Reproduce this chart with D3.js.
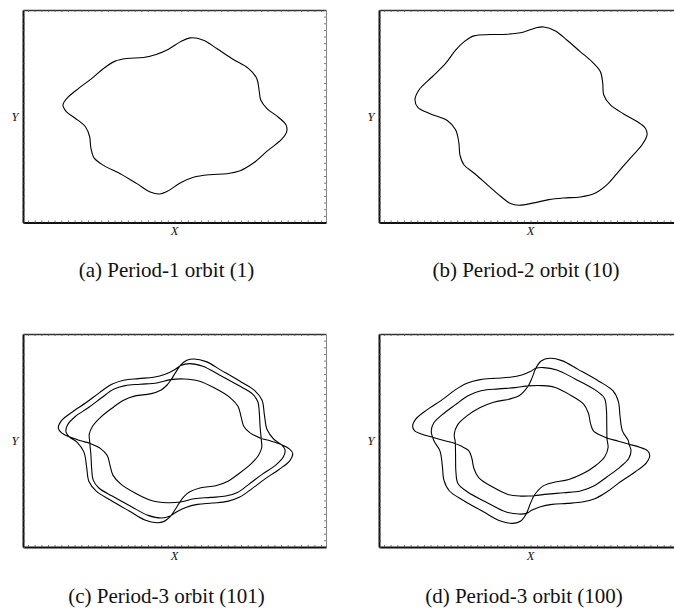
<!DOCTYPE html>
<html>
<head>
<meta charset="utf-8">
<script src="https://cdn.jsdelivr.net/npm/d3@7"></script>
<style>
  html, body { margin: 0; padding: 0; background: #fff; }
  svg { display: block; }
</style>
</head>
<body>
<script>
// Phase-plane orbits (X, Y). Each orbit is a closed path of sampled states.

// (a) period-1 orbit
const orbit1 = [
  [0.47,2.36],[0.87,2.29],[1.27,2.04],[1.77,1.71],[2.22,1.44],[2.47,1.14],[2.54,0.79],[2.59,0.49],
  [2.77,0.24],[3.12,-0.03],[3.35,-0.26],[3.37,-0.46],[3.22,-0.69],[2.77,-1.06],[2.37,-1.41],[1.97,-1.64],
  [1.57,-1.73],[1.07,-1.76],[0.57,-1.84],[0.17,-2.01],[-0.18,-2.24],[-0.45,-2.34],[-0.73,-2.28],[-1.13,-2.03],
  [-1.63,-1.73],[-2.13,-1.48],[-2.41,-1.26],[-2.51,-0.96],[-2.55,-0.61],[-2.68,-0.31],[-2.98,-0.06],[-3.25,0.14],
  [-3.35,0.34],[-3.23,0.54],[-2.88,0.84],[-2.48,1.14],[-2.13,1.44],[-1.78,1.66],[-1.43,1.74],[-0.93,1.77],
  [-0.53,1.87],[-0.18,2.02],[0.17,2.24]
];

// (b) period-2 orbit
const orbit2 = [
  [0.40,2.69],[0.75,2.57],[1.10,2.29],[1.50,1.94],[1.85,1.64],[2.10,1.34],[2.17,0.99],[2.20,0.64],
  [2.40,0.34],[2.80,0.07],[3.20,-0.16],[3.45,-0.36],[3.50,-0.56],[3.35,-0.86],[3.00,-1.26],[2.65,-1.66],
  [2.30,-2.06],[1.95,-2.31],[1.50,-2.43],[1.00,-2.46],[0.55,-2.51],[0.10,-2.61],[-0.35,-2.68],[-0.60,-2.63],
  [-0.90,-2.41],[-1.30,-2.06],[-1.70,-1.71],[-2.00,-1.46],[-2.12,-1.16],[-2.15,-0.81],[-2.25,-0.41],[-2.50,-0.13],
  [-3.00,0.07],[-3.38,0.26],[-3.47,0.49],[-3.35,0.79],[-2.95,1.19],[-2.55,1.59],[-2.25,1.99],[-2.00,2.24],
  [-1.70,2.42],[-1.20,2.46],[-0.70,2.47],[-0.20,2.54],[0.15,2.66]
];

// (c) period-3 orbit (101): three turns of one closed path
const orbit3a = [
  // turn 1
  [-3.16,0.11],[-3.39,0.23],[-3.49,0.37],[-3.40,0.59],[-3.08,0.85],[-2.65,1.14],[-2.25,1.44],[-1.90,1.68],
  [-1.53,1.81],[-1.08,1.86],[-0.63,1.90],[-0.28,1.99],[-0.01,2.12],[0.19,2.25],[0.45,2.31],[0.85,2.23],
  [1.35,1.97],[1.93,1.65],[2.34,1.40],[2.50,1.17],[2.55,0.79],[2.57,0.42],
  [2.61,-0.01],[2.62,-0.21],[2.52,-0.45],[2.29,-0.71],[1.94,-0.99],[1.59,-1.23],[1.24,-1.36],[0.79,-1.42],
  [0.46,-1.54],[0.29,-1.68],[0.16,-1.85],[0.03,-2.06],[-0.13,-2.29],[-0.31,-2.43],[-0.53,-2.47],[-0.89,-2.39],
  [-1.36,-2.12],[-1.94,-1.78],[-2.35,-1.52],[-2.57,-1.23],[-2.64,-0.79],[-2.72,-0.35],[-2.93,-0.05],
  // turn 2
  [-3.16,0.11],[-3.26,0.26],[-3.21,0.47],[-2.98,0.72],[-2.58,0.99],[-2.18,1.29],[-1.83,1.54],[-1.48,1.65],
  [-1.03,1.69],[-0.53,1.73],[-0.11,1.83],[0.29,1.85],[0.73,1.79],[1.22,1.57],[1.67,1.29],[1.91,1.02],
  [2.00,0.71],[2.08,0.43],[2.27,0.23],[2.59,0.07],[2.87,-0.01],
  [3.22,-0.13],[3.45,-0.25],[3.55,-0.39],[3.46,-0.61],[3.14,-0.87],[2.71,-1.16],[2.31,-1.46],[1.96,-1.70],
  [1.59,-1.83],[1.14,-1.88],[0.69,-1.92],[0.34,-2.01],[0.07,-2.14],[-0.13,-2.27],[-0.39,-2.33],[-0.79,-2.25],
  [-1.29,-1.99],[-1.87,-1.67],[-2.28,-1.42],[-2.44,-1.19],[-2.49,-0.81],[-2.51,-0.44],
  // turn 3
  [-2.55,-0.01],[-2.56,0.19],[-2.46,0.43],[-2.23,0.69],[-1.88,0.97],[-1.53,1.21],[-1.18,1.34],[-0.73,1.40],
  [-0.40,1.52],[-0.23,1.66],[-0.10,1.83],[0.03,2.04],[0.19,2.27],[0.37,2.41],[0.59,2.45],[0.95,2.37],
  [1.42,2.10],[2.00,1.76],[2.41,1.50],[2.63,1.21],[2.70,0.77],[2.78,0.33],[2.99,0.03],
  [3.22,-0.13],[3.32,-0.28],[3.27,-0.49],[3.04,-0.74],[2.64,-1.01],[2.24,-1.31],[1.89,-1.56],[1.54,-1.67],
  [1.09,-1.71],[0.59,-1.75],[0.17,-1.85],[-0.23,-1.87],[-0.67,-1.81],[-1.16,-1.59],[-1.61,-1.31],[-1.85,-1.04],
  [-1.94,-0.73],[-2.02,-0.45],[-2.21,-0.25],[-2.53,-0.09],[-2.81,-0.01]
];

// (d) period-3 orbit (100): three turns of one closed path
const orbit3b = [
  // turn 1
  [-2.92,0.09],[-3.26,0.19],[-3.48,0.29],[-3.54,0.43],[-3.44,0.65],[-3.11,0.92],[-2.66,1.22],[-2.26,1.52],
  [-1.91,1.72],[-1.51,1.83],[-1.06,1.87],[-0.61,1.90],[-0.26,1.97],[-0.01,2.07],[0.16,2.17],[0.39,2.19],
  [0.79,2.12],[1.34,1.85],[1.94,1.52],[2.22,1.27],[2.28,0.92],[2.29,0.47],
  [2.30,0.03],[2.33,-0.21],[2.23,-0.49],[1.95,-0.76],[1.55,-1.01],[1.15,-1.17],[0.65,-1.27],[0.37,-1.37],
  [0.22,-1.51],[0.10,-1.67],[-0.01,-1.91],[-0.12,-2.19],[-0.28,-2.41],[-0.53,-2.49],[-0.90,-2.42],[-1.40,-2.15],
  [-2.00,-1.81],[-2.44,-1.51],[-2.60,-1.19],[-2.65,-0.74],[-2.72,-0.31],[-2.90,-0.01],
  // turn 2
  [-2.98,0.29],[-2.91,0.52],[-2.66,0.77],[-2.26,1.07],[-1.86,1.35],[-1.46,1.50],[-0.96,1.55],[-0.46,1.59],
  [-0.06,1.64],[0.34,1.65],[0.72,1.60],[1.19,1.37],[1.59,1.10],[1.74,0.82],[1.80,0.52],[1.89,0.29],
  [2.14,0.14],[2.31,0.07],[2.64,-0.02],
  [2.96,-0.11],[3.30,-0.21],[3.52,-0.31],[3.58,-0.45],[3.48,-0.67],[3.15,-0.94],[2.70,-1.24],[2.30,-1.54],
  [1.95,-1.74],[1.55,-1.85],[1.10,-1.89],[0.65,-1.92],[0.30,-1.99],[0.05,-2.09],[-0.12,-2.19],[-0.35,-2.21],
  [-0.75,-2.14],[-1.30,-1.87],[-1.90,-1.54],[-2.18,-1.29],[-2.24,-0.94],[-2.25,-0.49],
  // turn 3
  [-2.26,-0.05],[-2.29,0.19],[-2.19,0.47],[-1.91,0.74],[-1.51,0.99],[-1.11,1.15],[-0.61,1.25],[-0.33,1.35],
  [-0.18,1.49],[-0.06,1.65],[0.05,1.89],[0.16,2.17],[0.32,2.39],[0.57,2.47],[0.94,2.40],[1.44,2.13],
  [2.04,1.79],[2.48,1.49],[2.64,1.17],[2.69,0.72],[2.76,0.29],[2.94,-0.01],
  [2.96,-0.11],[3.02,-0.31],[2.95,-0.54],[2.70,-0.79],[2.30,-1.09],[1.90,-1.37],[1.50,-1.52],[1.00,-1.57],
  [0.50,-1.61],[0.10,-1.66],[-0.30,-1.67],[-0.68,-1.62],[-1.15,-1.39],[-1.55,-1.12],[-1.70,-0.84],[-1.76,-0.54],
  [-1.85,-0.31],[-2.10,-0.16],[-2.27,-0.09],[-2.60,0.00]
];

const orbits   = [orbit1, orbit2, orbit3a, orbit3b];
const captions = ["(a) Period-1 orbit (1)", "(b) Period-2 orbit (10)",
                  "(c) Period-3 orbit (101)", "(d) Period-3 orbit (100)"];
const xDomain = [-4.55, 4.55];
const yDomain = [-3.2, 3.2];
const xName = "X", yName = "Y";

const serif = "Liberation Serif, Times New Roman, Times, serif";
const W = 674, H = 608;
const svg = d3.select("body").append("svg").attr("width", W).attr("height", H);
svg.append("rect").attr("width", W).attr("height", H).attr("fill", "#fff");

// panel frames: left, top, width, height, caption anchor
const frames = [
  {x: 23,  y: 10,  w: 303, h: 212.5, cx: 166.5, cy: 277},
  {x: 379, y: 10,  w: 303, h: 212.5, cx: 526,   cy: 277},
  {x: 23,  y: 334, w: 303, h: 213,   cx: 166.5, cy: 603},
  {x: 379, y: 334, w: 303, h: 213,   cx: 524,   cy: 603}
];

frames.forEach((f, i) => {
  const g = svg.append("g");
  const x = d3.scaleLinear().domain(xDomain).range([f.x, f.x + f.w]);
  const y = d3.scaleLinear().domain(yDomain).range([f.y + f.h, f.y]);

  // minor ticks on all four sides of the box
  const axisStyle = (sel, col, wDomain) => {
    sel.select(".domain").attr("stroke", col).attr("stroke-width", wDomain);
    sel.selectAll(".tick line").attr("stroke", "#555").attr("stroke-width", 0.8);
  };
  g.append("g").attr("transform", `translate(0,${f.y})`)
    .call(d3.axisTop(x).ticks(48).tickSize(-2).tickSizeOuter(0).tickFormat(""))
    .call(s => axisStyle(s, "#333", 1.4));
  g.append("g").attr("transform", `translate(${f.x + f.w},0)`)
    .call(d3.axisRight(y).ticks(36).tickSize(-2).tickSizeOuter(0).tickFormat(""))
    .call(s => axisStyle(s, "#888", 1));
  g.append("g").attr("transform", `translate(0,${f.y + f.h})`)
    .call(d3.axisBottom(x).ticks(48).tickSize(-2).tickSizeOuter(0).tickFormat(""))
    .call(s => axisStyle(s, "#111", 2));
  g.append("g").attr("transform", `translate(${f.x},0)`)
    .call(d3.axisLeft(y).ticks(36).tickSize(-2).tickSizeOuter(0).tickFormat(""))
    .call(s => axisStyle(s, "#111", 2));

  // orbit
  const line = d3.line()
    .x(d => x(d[0])).y(d => y(d[1]))
    .curve(d3.curveCatmullRomClosed.alpha(0.5));
  g.append("path").datum(orbits[i])
    .attr("d", line)
    .attr("fill", "none").attr("stroke", "#000").attr("stroke-width", 1.1)
    .attr("stroke-linejoin", "round");

  // axis names
  g.append("text").attr("text-anchor", "middle")
    .attr("font-family", serif).attr("font-style", "italic").attr("font-size", 12.5).attr("fill", "#111")
    .attr("x", f.x + f.w / 2).attr("y", f.y + f.h + 12.5).text(xName);
  g.append("text").attr("text-anchor", "middle")
    .attr("font-family", serif).attr("font-style", "italic").attr("font-size", 12.5).attr("fill", "#111")
    .attr("x", f.x - 8).attr("y", f.y + f.h / 2 + 4.5).text(yName);

  // caption
  svg.append("text").attr("text-anchor", "middle")
    .attr("font-family", serif).attr("font-size", 21).attr("fill", "#111")
    .attr("x", f.cx).attr("y", f.cy).text(captions[i]);
});
</script>
</body>
</html>
